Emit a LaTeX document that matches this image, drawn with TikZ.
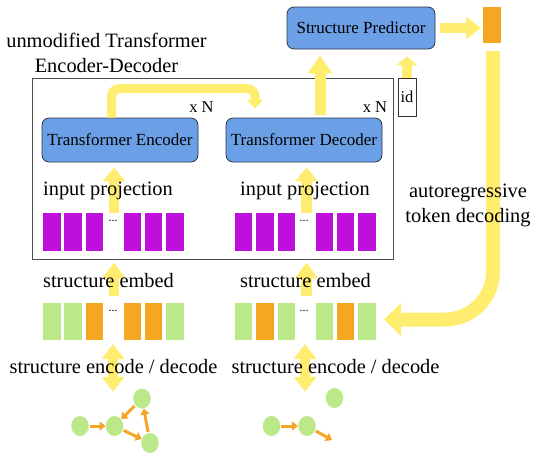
\documentclass[tikz,border=0pt]{standalone}
\usepackage{fontspec}
\setmainfont{Liberation Serif}
\usetikzlibrary{arrows.meta,shapes.geometric}
\definecolor{yel}{RGB}{255,237,112}
\definecolor{org}{RGB}{245,166,35}
\definecolor{grn}{RGB}{187,233,137}
\definecolor{pur}{RGB}{191,16,219}
\definecolor{blu}{RGB}{108,160,230}
\definecolor{bord}{RGB}{45,55,75}
\begin{document}
\begin{tikzpicture}[x=1pt,y=-1pt,
 tok/.style={minimum width=17.5pt, minimum height=38pt, inner sep=0pt, outer sep=0pt, draw=none},
 ptok/.style={tok, fill=pur},
 gtok/.style={tok, fill=grn, minimum height=37pt},
 otok/.style={tok, fill=org, minimum height=37pt},
 bluebox/.style={draw=bord, fill=blu, rounded corners=7pt, line width=0.8pt, font=\fontsize{17}{19}\selectfont, inner sep=0pt},
 lbl/.style={font=\fontsize{20.4}{24.5}\selectfont, inner sep=0pt},
 small/.style={font=\fontsize{16.5}{18}\selectfont, inner sep=0pt},
 dots/.style={font=\fontsize{12}{14}\selectfont, inner sep=0pt},
 yarr/.style={draw=yel, line width=10.5pt, -{Triangle[width=22pt,length=14pt]}},
 ydbl/.style={draw=yel, line width=10pt, {Triangle[width=22pt,length=15pt]}-{Triangle[width=22pt,length=15pt]}},
 gnode/.style={ellipse, fill=grn, minimum width=17.5pt, minimum height=20pt, inner sep=0pt},
 garr/.style={draw=org, line width=3pt, -{Triangle[width=9pt,length=6pt]}, shorten <=1pt, shorten >=0pt}
]
\useasboundingbox (0,0) rectangle (534,459);

% boxes
\node[draw=black!70, line width=0.8pt, minimum width=361pt, minimum height=181pt, inner sep=0pt] (big) at (212.5,168.5) {};
\node[bluebox, minimum width=148pt, minimum height=42pt] (sp) at (361,28) {Structure Predictor};
\node[bluebox, minimum width=156pt, minimum height=44pt] (enc) at (120,140) {Transformer Encoder};
\node[bluebox, minimum width=156pt, minimum height=44pt] (dec) at (304,140) {Transformer Decoder};
\node[otok, minimum width=18pt, minimum height=36pt] (out) at (492,25) {};
\node[draw=black!80, line width=0.6pt, minimum width=18pt, minimum height=38pt, inner sep=0pt, small] (id) at (407,97) {id};

% tokens
\foreach \x/\n in {52/1,73/2,94.5/3,132.5/4,153.5/5,175/6}{\node[ptok] (lp\n) at (\x,232) {};}
\foreach \x/\n in {243.5/1,265/2,286.5/3,324.5/4,345.5/5,367/6}{\node[ptok] (rp\n) at (\x,232) {};}
\node[gtok] (lg1) at (52,321.5) {};
\node[gtok] (lg2) at (73,321.5) {};
\node[otok] (lg3) at (94.5,321.5) {};
\node[otok] (lg4) at (132.5,321.5) {};
\node[otok] (lg5) at (153.5,321.5) {};
\node[gtok] (lg6) at (175,321.5) {};
\node[gtok] (rg1) at (243.5,321.5) {};
\node[otok] (rg2) at (265,321.5) {};
\node[gtok] (rg3) at (286.5,321.5) {};
\node[gtok] (rg4) at (324.5,321.5) {};
\node[otok] (rg5) at (345.5,321.5) {};
\node[gtok] (rg6) at (367,321.5) {};
\node[dots] (ld1) at (113,221) {...};
\node[dots] (rd1) at (304,221) {...};
\node[dots] (ld2) at (113,311) {...};
\node[dots] (rd2) at (304,311) {...};
\coordinate (bend) at (493,319.5);
\coordinate (btip) at (384,319.5);

% yellow arrows
\draw[yarr, line width=10pt, -{Triangle[width=22pt,length=15pt]}] ([xshift=5pt]sp.east) -- ([xshift=-2pt]out.west |- sp.east);
\draw[yarr, line width=14pt, -{Triangle[width=32pt,length=17pt]}, rounded corners=48pt]
  ([xshift=1pt,yshift=-8pt]out.south) -- (bend) -- (btip);
\draw[yarr, line width=9pt, -{Triangle[width=16pt,length=9pt]}, rounded corners=8pt]
  ([xshift=-8.5pt]enc.north) -- ++(0,-29) -| ([xshift=-49pt,yshift=9pt]dec.north);
\draw[yarr, line width=11pt, -{Triangle[width=24pt,length=18pt]}] ([xshift=16pt,yshift=3pt]dec.north) -- ([xshift=-41pt,yshift=-6pt]sp.south);
\draw[yarr, line width=10pt, -{Triangle[width=21pt,length=9pt]}] (id.north) -- ([xshift=46pt,yshift=-7pt]sp.south);
\draw[yarr] ([xshift=1pt]ld1.north |- lp1.north) -- ([xshift=-6pt,yshift=-5pt]enc.south);
\draw[yarr] ([xshift=2.5pt]rd1.north |- rp1.north) -- ([xshift=2.5pt,yshift=-5pt]dec.south);
\draw[yarr, -{Triangle[width=22pt,length=16pt]}] ([xshift=1pt,yshift=7pt]ld2.north |- lg1.north) -- ([xshift=1pt,yshift=-3pt]ld2.north |- big.south);
\draw[yarr, -{Triangle[width=22pt,length=16pt]}] ([xshift=2.5pt,yshift=7pt]rd2.north |- rg1.north) -- ([xshift=2.5pt,yshift=-3pt]rd2.north |- big.south);

% graphs
\node[gnode] (ga) at (80,426) {};
\node[gnode] (gb) at (114.5,426) {};
\node[gnode] (gc) at (142,398.5) {};
\node[gnode] (gd) at (150,443) {};
\node[gnode] (ha) at (271.5,426) {};
\node[gnode] (hb) at (307,426) {};
\node[gnode] (hc) at (334.5,398) {};
\coordinate (hend) at (332,440);

\draw[ydbl] ([yshift=-4pt]ld2.south |- lg1.south) -- ([xshift=-1.5pt,yshift=24pt]gb.north);
\draw[ydbl] ([xshift=1pt,yshift=-4pt]rd2.south |- rg1.south) -- ([xshift=-2pt,yshift=24pt]hb.north);

\draw[garr] (ga) -- (gb);
\draw[garr] (gc) -- (gb);
\draw[garr] (gb) -- (gd);
\draw[garr] (gd) -- (gc);
\draw[garr] (ha) -- (hb);
\draw[garr] (hb) -- (hend);

% texts
\node[small, anchor=base] (xn1) at (201.5,112) {x N};
\node[small, anchor=base] (xn2) at (375,112) {x N};
\node[lbl, align=center, anchor=base] (title) at (106.5,72) {unmodified Transformer\\Encoder-Decoder};
\node[lbl, anchor=base] (ip1) at (108,195) {input projection};
\node[lbl, anchor=base] (ip2) at (305,195) {input projection};
\node[lbl, anchor=base] (se1) at (108.5,287) {structure embed};
\node[lbl, anchor=base] (se2) at (305.5,287) {structure embed};
\node[lbl, anchor=base] (sed1) at (113.5,373) {structure encode / decode};
\node[lbl, anchor=base] (sed2) at (335.5,373) {structure encode / decode};
\node[lbl, align=center, anchor=base] (auto) at (468,222) {autoregressive\\token decoding};
\end{tikzpicture}
\end{document}
